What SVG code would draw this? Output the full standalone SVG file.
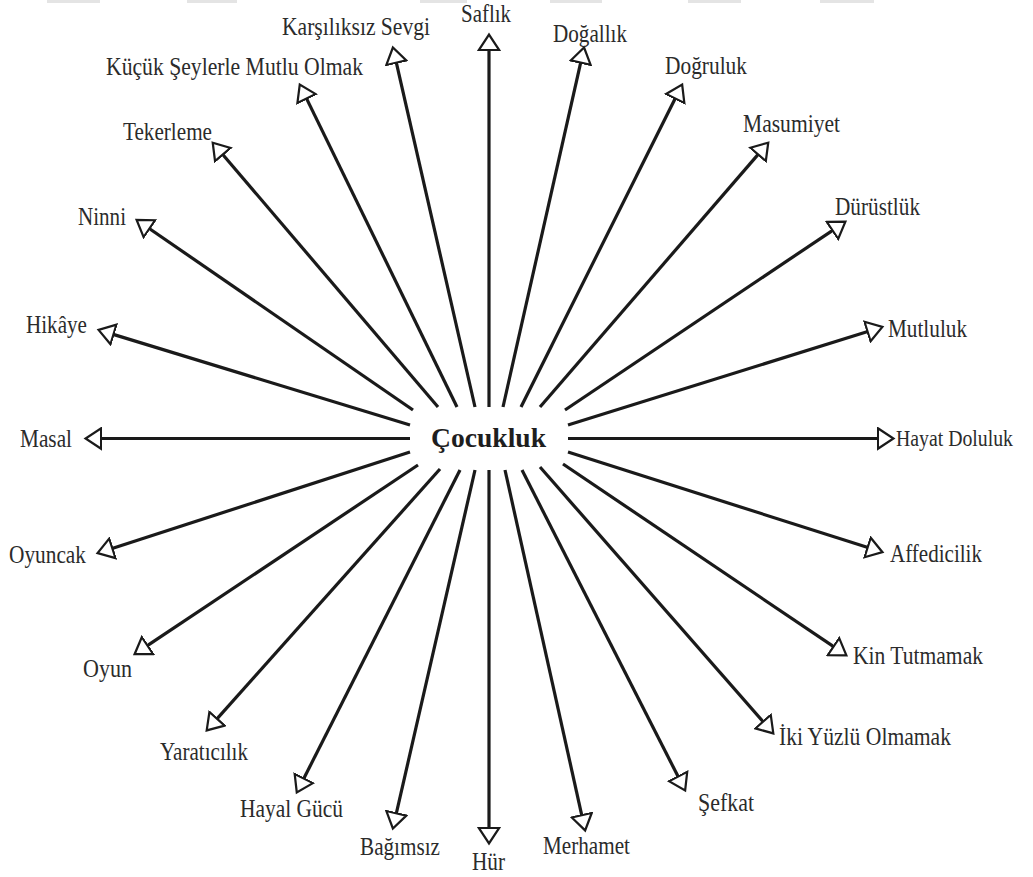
<svg xmlns="http://www.w3.org/2000/svg" width="1033" height="877" viewBox="0 0 1033 877">
<style>
.lbl{font-family:"Liberation Serif","Times New Roman",serif;font-size:25px;fill:#2b2b2b}
.ctr{font-family:"Liberation Serif","Times New Roman",serif;font-size:27px;font-weight:bold;fill:#1e1e1e}
.sp{stroke:#1a1a1a;stroke-width:3.2;fill:none;marker-end:url(#tri)}
.bar{fill:#e4e4e4}
</style>
<defs>
<marker id="tri" markerUnits="userSpaceOnUse" markerWidth="20" markerHeight="24" refX="1" refY="10" orient="auto" viewBox="-1 0 18 20">
<path d="M0,0.8 L14,10 L0,19.2 Z" fill="#fff" stroke="#1a1a1a" stroke-width="2" stroke-linejoin="miter"/>
</marker>
</defs>
<rect width="1033" height="877" fill="#fff"/>
<g id="topbars">
<rect class="bar" x="47" y="0" width="53" height="3"/>
<rect class="bar" x="187" y="0" width="50" height="3"/>
<rect class="bar" x="420" y="0" width="47" height="3"/>
<rect class="bar" x="550" y="0" width="52" height="3"/>
<rect class="bar" x="688" y="0" width="53" height="3"/>
<rect class="bar" x="820" y="0" width="54" height="3"/>
</g>
<g id="connectors">
<line class="sp" x1="489" y1="407" x2="489" y2="49"/>
<line class="sp" x1="475" y1="407" x2="396.1" y2="61.6"/>
<line class="sp" x1="503" y1="407" x2="580.9" y2="61.6"/>
<line class="sp" x1="457" y1="407" x2="306.1" y2="97.6"/>
<line class="sp" x1="521" y1="407" x2="675.7" y2="97.5"/>
<line class="sp" x1="438" y1="407" x2="222.1" y2="153.7"/>
<line class="sp" x1="540" y1="407" x2="758.8" y2="153.6"/>
<line class="sp" x1="413" y1="410" x2="148.5" y2="228"/>
<line class="sp" x1="565" y1="410" x2="833.4" y2="229.8"/>
<line class="sp" x1="410" y1="425" x2="112.4" y2="334.1"/>
<line class="sp" x1="568" y1="425" x2="868.6" y2="331.2"/>
<line class="sp" x1="410" y1="438.5" x2="100" y2="438.5"/>
<line class="sp" x1="568" y1="438.5" x2="879" y2="438.5"/>
<line class="sp" x1="410" y1="452" x2="111.3" y2="548.7"/>
<line class="sp" x1="568" y1="452" x2="868.7" y2="547.8"/>
<line class="sp" x1="418" y1="465" x2="146.6" y2="646.2"/>
<line class="sp" x1="563" y1="464" x2="834.4" y2="647.2"/>
<line class="sp" x1="440" y1="469" x2="216.3" y2="719.6"/>
<line class="sp" x1="540" y1="467" x2="763.8" y2="722.5"/>
<line class="sp" x1="460" y1="470" x2="303.3" y2="779.5"/>
<line class="sp" x1="522" y1="470" x2="678.6" y2="777.5"/>
<line class="sp" x1="475" y1="470" x2="396.1" y2="814.4"/>
<line class="sp" x1="505" y1="470" x2="582" y2="816.3"/>
<line class="sp" x1="489" y1="470" x2="489" y2="829"/>
</g>
<g id="center"><text class="ctr" x="431" y="447" textLength="115" lengthAdjust="spacingAndGlyphs">Çocukluk</text></g>
<g id="n-saflik"><text class="lbl" x="461" y="22" textLength="50" lengthAdjust="spacingAndGlyphs">Saflık</text></g>
<g id="n-karsiliksiz"><text class="lbl" x="282" y="35" textLength="148" lengthAdjust="spacingAndGlyphs">Karşılıksız Sevgi</text></g>
<g id="n-dogallik"><text class="lbl" x="553" y="42" textLength="74" lengthAdjust="spacingAndGlyphs">Doğallık</text></g>
<g id="n-kucuk"><text class="lbl" x="106" y="75" textLength="257" lengthAdjust="spacingAndGlyphs">Küçük Şeylerle Mutlu Olmak</text></g>
<g id="n-dogruluk"><text class="lbl" x="665" y="74" textLength="82" lengthAdjust="spacingAndGlyphs">Doğruluk</text></g>
<g id="n-tekerleme"><text class="lbl" x="123" y="140" textLength="89" lengthAdjust="spacingAndGlyphs">Tekerleme</text></g>
<g id="n-masumiyet"><text class="lbl" x="743" y="132" textLength="97" lengthAdjust="spacingAndGlyphs">Masumiyet</text></g>
<g id="n-ninni"><text class="lbl" x="78" y="225" textLength="48" lengthAdjust="spacingAndGlyphs">Ninni</text></g>
<g id="n-durustluk"><text class="lbl" x="835" y="215" textLength="85" lengthAdjust="spacingAndGlyphs">Dürüstlük</text></g>
<g id="n-hikaye"><text class="lbl" x="26" y="333" textLength="61" lengthAdjust="spacingAndGlyphs">Hikâye</text></g>
<g id="n-mutluluk"><text class="lbl" x="888" y="337" textLength="79" lengthAdjust="spacingAndGlyphs">Mutluluk</text></g>
<g id="n-masal"><text class="lbl" x="20" y="447" textLength="52" lengthAdjust="spacingAndGlyphs">Masal</text></g>
<g id="n-hayat"><text class="lbl" x="896" y="446" style="font-size:22.5px" textLength="117" lengthAdjust="spacingAndGlyphs">Hayat Doluluk</text></g>
<g id="n-oyuncak"><text class="lbl" x="9" y="563" textLength="77" lengthAdjust="spacingAndGlyphs">Oyuncak</text></g>
<g id="n-affedicilik"><text class="lbl" x="890" y="562" textLength="92" lengthAdjust="spacingAndGlyphs">Affedicilik</text></g>
<g id="n-oyun"><text class="lbl" x="83" y="677" textLength="49" lengthAdjust="spacingAndGlyphs">Oyun</text></g>
<g id="n-kin"><text class="lbl" x="853" y="664" textLength="130" lengthAdjust="spacingAndGlyphs">Kin Tutmamak</text></g>
<g id="n-yaraticilik"><text class="lbl" x="160" y="760" textLength="88" lengthAdjust="spacingAndGlyphs">Yaratıcılık</text></g>
<g id="n-ikiyuzlu"><text class="lbl" x="779" y="745" textLength="172" lengthAdjust="spacingAndGlyphs">İki Yüzlü Olmamak</text></g>
<g id="n-hayal"><text class="lbl" x="240" y="817" textLength="103" lengthAdjust="spacingAndGlyphs">Hayal Gücü</text></g>
<g id="n-sefkat"><text class="lbl" x="698" y="811" textLength="56" lengthAdjust="spacingAndGlyphs">Şefkat</text></g>
<g id="n-bagimsiz"><text class="lbl" x="360" y="855" textLength="80" lengthAdjust="spacingAndGlyphs">Bağımsız</text></g>
<g id="n-hur"><text class="lbl" x="472" y="870" textLength="33" lengthAdjust="spacingAndGlyphs">Hür</text></g>
<g id="n-merhamet"><text class="lbl" x="543" y="854" textLength="87" lengthAdjust="spacingAndGlyphs">Merhamet</text></g>
</svg>
